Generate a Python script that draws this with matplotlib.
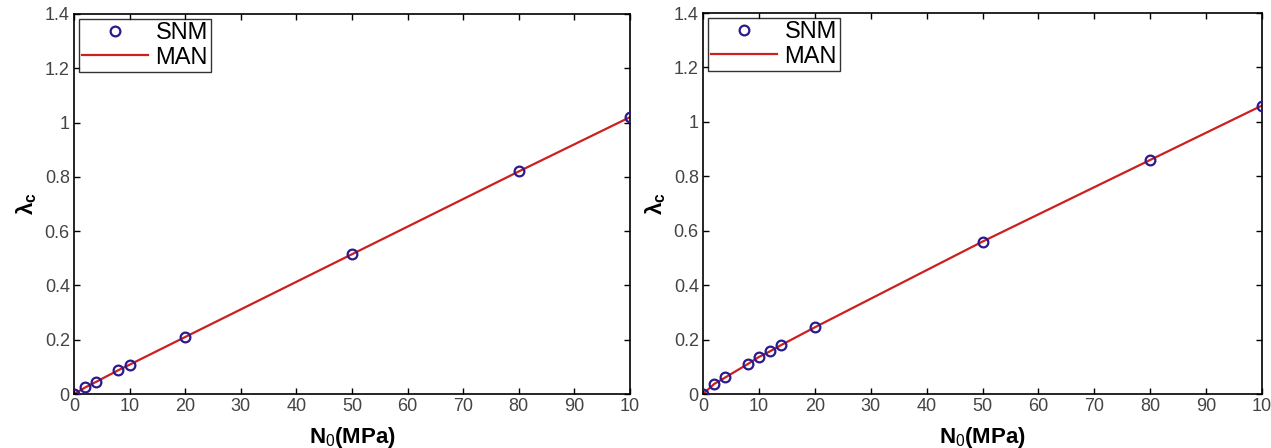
import matplotlib
matplotlib.use("Agg")
import matplotlib.pyplot as plt

# Data
x_left = [0, 2, 4, 8, 10, 20, 50, 80, 100]
snm_left = [0.0, 0.025, 0.045, 0.088, 0.108, 0.21, 0.515, 0.82, 1.02]
man_left = [0.0, 0.024, 0.045, 0.088, 0.108, 0.21, 0.515, 0.82, 1.02]

x_right = [0, 2, 4, 8, 10, 12, 14, 20, 50, 80, 100]
snm_right = [0.0, 0.037, 0.061, 0.11, 0.136, 0.157, 0.18, 0.245, 0.56, 0.86, 1.06]
man_right = [0.0, 0.037, 0.061, 0.11, 0.136, 0.157, 0.18, 0.245, 0.56, 0.86, 1.06]

xticks = [0, 10, 20, 30, 40, 50, 60, 70, 80, 90, 100]
xticklabels = ['0', '10', '20', '30', '40', '50', '60', '70', '80', '90', '10']
yticks = [0, 0.2, 0.4, 0.6, 0.8, 1.0, 1.2, 1.4]
yticklabels = ['0', '0.2', '0.4', '0.6', '0.8', '1', '1.2', '1.4']

plt.rcParams['font.family'] = ['Liberation Sans', 'DejaVu Sans']
plt.rcParams['mathtext.fontset'] = 'custom'
plt.rcParams['mathtext.rm'] = 'Liberation Sans'
plt.rcParams['mathtext.bf'] = 'Liberation Sans:bold'
plt.rcParams['mathtext.it'] = 'Liberation Sans:italic'
W, H = 1271, 448
fig = plt.figure(figsize=(W / 100, H / 100), dpi=100)

def px_axes(l, r, t, b):
    return fig.add_axes([l / W, 1 - b / H, (r - l) / W, (b - t) / H])

def draw(ax, x, snm, man):
    ax.plot(x, snm, linestyle='none', marker='o', markersize=7, markerfacecolor='none',
            markeredgecolor='#2a1a8c', markeredgewidth=1.6, label='SNM', zorder=3)
    ax.plot(x, man, color='#cc2020', linewidth=1.6, label='MAN', zorder=2)
    ax.set_xlim(0, 100)
    ax.set_ylim(0, 1.4)
    ax.set_xticks(xticks)
    ax.set_xticklabels(xticklabels)
    ax.set_yticks(yticks)
    ax.set_yticklabels(yticklabels)
    ax.tick_params(direction='in', top=True, right=True, length=4, width=1,
                   labelsize=13, labelcolor='#444444', pad=3)
    for s in ax.spines.values():
        s.set_linewidth(1.2)
        s.set_color('black')
    ax.set_xlabel(r'$\mathbf{N}_{\mathrm{0}}$' + '(MPa)', fontsize=16, fontweight='bold', labelpad=7)
    ax.set_ylabel(r'$\mathbf{\lambda_c}$', fontsize=16, labelpad=4)
    leg = ax.legend(loc='upper left', fontsize=17, frameon=True, fancybox=False,
                    edgecolor='black', borderaxespad=0.2, handlelength=2.8,
                    borderpad=0.15, labelspacing=0.1, handletextpad=0.3,
                    numpoints=1)
    leg.get_frame().set_linewidth(1.0)

ax1 = px_axes(74, 630, 14, 394)
draw(ax1, x_left, snm_left, man_left)
ax2 = px_axes(703, 1262, 13, 394)
draw(ax2, x_right, snm_right, man_right)

fig.savefig('out.png', dpi=100)
